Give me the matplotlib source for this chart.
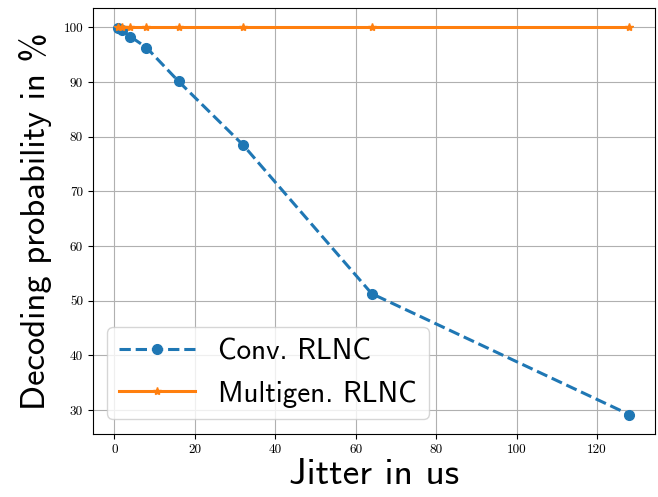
import numpy as np
import matplotlib
matplotlib.use("Agg")
import matplotlib.pyplot as plt

# jitter values (us) and decoding probability (%)
jitter = [1, 2, 4, 8, 16, 32, 64, 128]
conv_rlnc = [99.8, 99.5, 98.3, 96.3, 90.1, 78.5, 51.3, 29.2]
multigen_rlnc = [100, 100, 100, 100, 100, 100, 100, 100]

x_ticks = [0, 20, 40, 60, 80, 100, 120]
y_ticks = [30, 40, 50, 60, 70, 80, 90, 100]

fig = plt.figure(figsize=(6.58, 4.97), dpi=100)
ax = fig.add_axes([0.141, 0.127, 0.854, 0.857])

ax.plot(jitter, conv_rlnc, ls='--', marker='o', color='#1f77b4', lw=2.2, ms=7, label='Conv. RLNC')
ax.plot(jitter, multigen_rlnc, ls='-', marker='*', color='#ff7f0e', lw=2.2, ms=6, label='Multigen. RLNC')

ax.set_xticks(x_ticks)
ax.set_yticks(y_ticks)
for lbl in ax.get_xticklabels() + ax.get_yticklabels():
    lbl.set_fontfamily('cmr10')
    lbl.set_fontsize(9.5)
ax.grid(True, color='#b0b0b0', lw=0.8)

ax.set_xlabel('Jitter in us', fontfamily='cmss10', fontsize=27, labelpad=2)
ax.set_ylabel('Decoding probability in %', fontfamily='cmss10', fontsize=25, labelpad=8)

ax.legend(loc='lower left', prop={'family': 'cmss10', 'size': 21}, handlelength=2.6)

fig.savefig('out.png', dpi=100)
